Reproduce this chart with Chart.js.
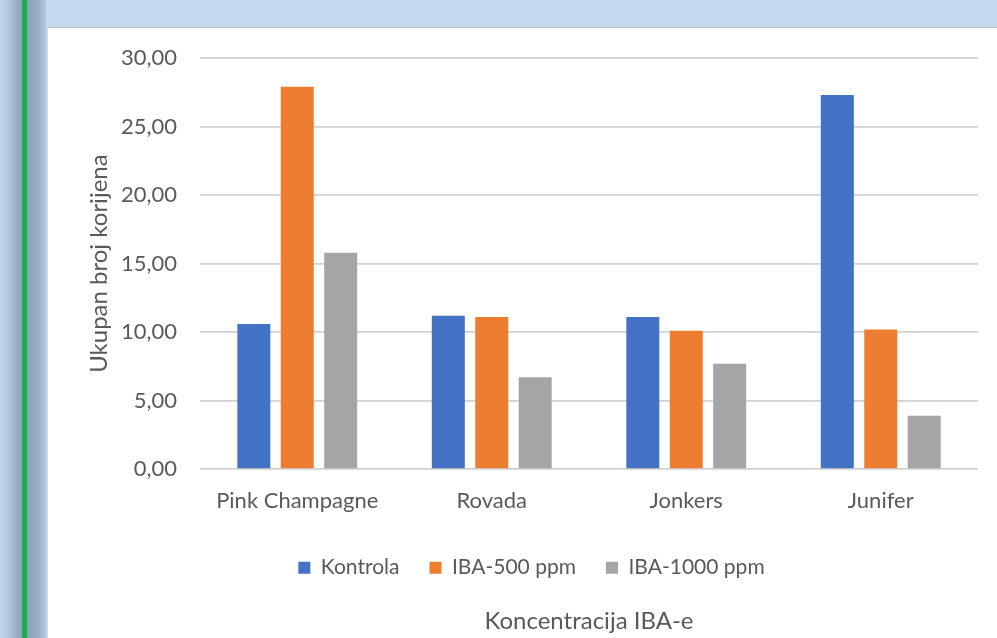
<!DOCTYPE html>
<html>
<head>
<meta charset="utf-8">
<script src="https://cdn.jsdelivr.net/npm/chart.js@4/dist/chart.umd.min.js"></script>
<style>
  html, body { margin: 0; padding: 0; }
  body { width: 997px; height: 638px; background: #c6daef; position: relative; overflow: hidden; }
  #side {
    position: absolute; left: 0; top: 0; width: 48px; height: 638px;
    background: linear-gradient(to right,
      #bfd4ea 0px, #b4c9df 8px, #94a9c0 19px, #8ea3ba 22px,
      #19ae4b 22px, #19ae4b 27px,
      #8ca1b9 27px, #97adc5 38px, #b6cce3 46px, #c9d4df 47px, #e6e9ec 48px);
  }
  #card {
    position: absolute; left: 48px; top: 27px; width: 949px; height: 611px;
    background: #ffffff; border-top: 1px solid #b8c2cc; box-sizing: border-box;
  }
  #wrap { position: absolute; left: 48px; top: 29px; width: 949px; height: 609px; }
</style>
</head>
<body>
<div id="side"></div>
<div id="card"></div>
<div id="wrap"><canvas id="c" width="949" height="609"></canvas></div>
<script>
// Ukupan broj korijena po sorti i koncentraciji IBA
const categories = ['Pink Champagne', 'Rovada', 'Jonkers', 'Junifer'];
const kontrola   = [10.6, 11.2, 11.1, 27.3];
const iba500     = [27.9, 11.1, 10.1, 10.2];
const iba1000    = [15.8, 6.7, 7.7, 3.9];
const seriesNames = ['Kontrola', 'IBA-500 ppm', 'IBA-1000 ppm'];
const yTicks = [0, 5, 10, 15, 20, 25, 30];

const FONT = 'Lato, "Open Sans", sans-serif';
const TXT = '#595959';

new Chart(document.getElementById('c'), {
  type: 'bar',
  data: {
    labels: categories,
    datasets: [
      { label: seriesNames[0], data: kontrola, backgroundColor: '#4472c4' },
      { label: seriesNames[1], data: iba500,   backgroundColor: '#ed7d31' },
      { label: seriesNames[2], data: iba1000,  backgroundColor: '#a5a5a5' }
    ]
  },
  options: {
    responsive: false,
    animation: false,
    devicePixelRatio: 1,
    categoryPercentage: 0.67,
    barPercentage: 0.76,
    layout: { padding: { left: 37, right: 19, top: 29, bottom: 0 } },
    scales: {
      x: {
        grid: { display: false },
        border: { display: false },
        ticks: { color: TXT, font: { family: FONT, size: 22 }, padding: 11 },
        afterFit: (s) => { s.height = 58; }
      },
      y: {
        min: 0, max: 30,
        afterBuildTicks: (s) => { s.ticks = yTicks.map(v => ({ value: v })); },
        // invisible tick marks keep the labels clear of the plot area
        grid: { color: '#d2d2d2', lineWidth: 1.8, drawTicks: true, tickLength: 23, tickColor: 'rgba(0,0,0,0)' },
        border: { display: false },
        ticks: {
          color: TXT, font: { family: FONT, size: 22 }, padding: 0,
          callback: (v) => Number(v).toFixed(2).replace('.', ',')
        },
        title: {
          display: true, text: 'Ukupan broj korijena', color: TXT,
          font: { family: FONT, size: 24 }, padding: 0
        },
        afterFit: (s) => { s.width = 115; }
      }
    },
    plugins: {
      legend: {
        position: 'bottom',
        labels: {
          color: TXT, font: { family: FONT, size: 21 },
          boxWidth: 12, boxHeight: 12, padding: 30
        }
      },
      title: {
        display: true, position: 'bottom', fullSize: false,
        text: 'Koncentracija IBA-e', color: TXT,
        font: { family: FONT, size: 24, weight: 'normal' },
        padding: { top: 19, bottom: 2 }
      },
      tooltip: { enabled: false }
    }
  }
});
</script>
</body>
</html>
